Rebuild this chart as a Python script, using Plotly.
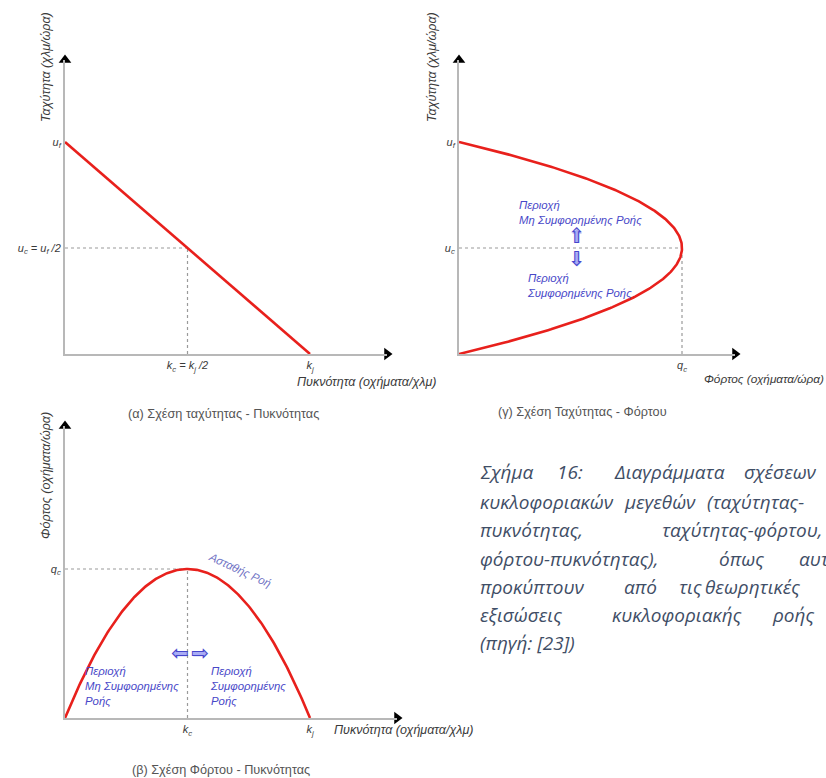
import numpy as np
import plotly.graph_objects as go

W, H = 826, 778

# Greenshields traffic-flow model (normalised units)
U_FREE = 1.0            # free-flow speed u_f
K_JAM = 1.0             # jam density k_j
K_CRIT = K_JAM / 2      # critical density k_c
U_CRIT = U_FREE / 2     # critical speed u_c
Q_CAP = U_FREE * K_JAM / 4  # capacity q_c

density = np.linspace(0, K_JAM, 241)
speed = U_FREE * (1 - density / K_JAM)
flow = density * speed

RED = "#e8201c"
AXIS = "#b8b8b8"
GUIDE = "#9a9a9a"
TXT = "#3a3a3a"
BLUE = "#4848c8"
FONT = "Liberation Sans, Arial, sans-serif"

# panel frames in pixels: origin, pixel of the unit value, arrow tips
PANELS = {
    "a": dict(x0=65, y0=354, xunit=(K_JAM, 310), yunit=(U_FREE, 142), xtip=392, ytip=55),
    "g": dict(x0=459, y0=354, xunit=(Q_CAP, 682), yunit=(U_FREE, 142), xtip=740, ytip=55),
    "b": dict(x0=65, y0=718, xunit=(K_JAM, 310), yunit=(Q_CAP, 569), xtip=402, ytip=421),
}


def frame(p):
    sx = (p["xunit"][1] - p["x0"]) / p["xunit"][0]
    sy = (p["y0"] - p["yunit"][1]) / p["yunit"][0]
    xe, ye = p["xtip"] - 5, p["ytip"] + 5
    return dict(
        xdom=[p["x0"] / W, xe / W],
        ydom=[1 - p["y0"] / H, 1 - ye / H],
        xmax=(xe - p["x0"]) / sx,
        ymax=(p["y0"] - ye) / sy,
    )


F = {k: frame(v) for k, v in PANELS.items()}
AX = {"a": ("x", "y"), "g": ("x2", "y2"), "b": ("x3", "y3")}

fig = go.Figure()

# red model curves
fig.add_trace(go.Scatter(x=density, y=speed, xaxis="x", yaxis="y", mode="lines",
                         line=dict(color=RED, width=2.6), cliponaxis=False, hoverinfo="skip"))
fig.add_trace(go.Scatter(x=flow, y=speed, xaxis="x2", yaxis="y2", mode="lines",
                         line=dict(color=RED, width=2.6), cliponaxis=False, hoverinfo="skip"))
fig.add_trace(go.Scatter(x=density, y=flow, xaxis="x3", yaxis="y3", mode="lines",
                         line=dict(color=RED, width=2.6), cliponaxis=False, hoverinfo="skip"))

# arrow heads at the ends of the axes
for key, (xa, ya) in AX.items():
    f = F[key]
    fig.add_trace(go.Scatter(x=[f["xmax"], 0], y=[0, f["ymax"]], xaxis=xa, yaxis=ya,
                             mode="markers", cliponaxis=False, hoverinfo="skip",
                             marker=dict(symbol=["triangle-right", "triangle-up"],
                                         size=11, color="black", line=dict(width=0))))

# dotted guides to the critical point
shapes = []
guides = {"a": (K_CRIT, U_CRIT), "g": (Q_CAP, U_CRIT), "b": (K_CRIT, Q_CAP)}
for key, (gx, gy) in guides.items():
    xa, ya = AX[key]
    for (x0, y0, x1, y1) in [(0, gy, gx, gy), (gx, 0, gx, gy)]:
        shapes.append(dict(type="line", xref=xa, yref=ya, x0=x0, y0=y0, x1=x1, y1=y1,
                           line=dict(color=GUIDE, width=1.2, dash="dot"), layer="below"))

tickfont = dict(family=FONT, size=11, color=TXT, style="italic")


def axis(key, which, tickvals, ticktext, anchor):
    f = F[key]
    return dict(
        domain=f["xdom"] if which == "x" else f["ydom"],
        range=[0, f["xmax"] if which == "x" else f["ymax"]],
        anchor=anchor, showgrid=False, zeroline=False,
        showline=True, linecolor=AXIS, linewidth=2,
        ticks="", tickvals=tickvals, ticktext=ticktext, tickfont=tickfont,
        fixedrange=True,
    )


layout_axes = dict(
    xaxis=axis("a", "x", [K_CRIT, K_JAM], ["k<sub>c</sub> = k<sub>j</sub> /2", "k<sub>j</sub>"], "y"),
    yaxis=axis("a", "y", [U_CRIT, U_FREE], ["u<sub>c</sub> = u<sub>f</sub> /2", "u<sub>f</sub>"], "x"),
    xaxis2=axis("g", "x", [Q_CAP], ["q<sub>c</sub>"], "y2"),
    yaxis2=axis("g", "y", [U_CRIT, U_FREE], ["u<sub>c</sub>", "u<sub>f</sub>"], "x2"),
    xaxis3=axis("b", "x", [K_CRIT, K_JAM], ["k<sub>c</sub>", "k<sub>j</sub>"], "y3"),
    yaxis3=axis("b", "y", [Q_CAP], ["q<sub>c</sub>"], "x3"),
)

annotations = []


def note(text, px, py, size=12.5, color=TXT, xanchor="left", yanchor="middle",
         angle=0, italic=True, family=FONT, align="left"):
    annotations.append(dict(
        text=text, x=px / W, y=1 - py / H, xref="paper", yref="paper",
        xanchor=xanchor, yanchor=yanchor, showarrow=False, textangle=angle, align=align,
        font=dict(family=family, size=size, color=color, style="italic" if italic else "normal"),
    ))


# axis titles
note("Ταχύτητα (χλμ/ώρα)", 46, 67, angle=-90, xanchor="center")
note("Ταχύτητα (χλμ/ώρα)", 432, 67, angle=-90, xanchor="center")
note("Φόρτος (οχήματα/ώρα)", 46, 476, angle=-90, xanchor="center")
note("Πυκνότητα (οχήματα/χλμ)", 295, 382)
note("Φόρτος (οχήματα/ώρα)", 702, 379, size=11.8)
note("Πυκνότητα (οχήματα/χλμ)", 332, 730)

# panel captions
CAPT = dict(size=12.7, color="#555555", xanchor="center", italic=False)
note("(α) Σχέση ταχύτητας - Πυκνότητας", 223, 414, **CAPT)
note("(γ) Σχέση Ταχύτητας - Φόρτου", 582, 412, **CAPT)
note("(β) Σχέση Φόρτου - Πυκνότητας", 221, 770, **CAPT)

# flow regimes
note("Περιοχή<br>Μη Συμφορημένης Ροής", 517, 212, size=11.4, color=BLUE)
note("Περιοχή<br>Συμφορημένης Ροής", 525, 285, size=11.4, color=BLUE)
note("Περιοχή<br>Μη Συμφορημένης<br>Ροής", 83, 686, size=11.4, color=BLUE)
note("Περιοχή<br>Συμφορημένης<br>Ροής", 208, 686, size=11.4, color=BLUE)
note("Ασταθής Ροή", 240, 570, size=11.4, color="#6f72c4", xanchor="center", angle=25)

# block arrows marking the regime change: light fill under a darker outline
FILL = dict(size=19, color="#a9acf4", italic=False, family="DejaVu Sans", xanchor="center")
EDGE = dict(size=21, color="#4646cc", italic=False, family="DejaVu Sans", xanchor="center")
for fill_glyph, edge_glyph, px, py in [("⬆", "⇧", 577, 236), ("⬇", "⇩", 577, 259),
                                       ("⬅", "⇦", 180, 653), ("➡", "⇨", 200, 653)]:
    note(fill_glyph, px, py, **FILL)
    note(edge_glyph, px, py, **EDGE)

# figure caption, justified word by word
CAP = dict(size=19, color="#3f4e66", family="Open Sans, sans-serif")
caption_lines = [
    (472, [("Σχήμα", 478), ("16:", 555), ("Διαγράμματα", 612), ("σχέσεων", 742)]),
    (502, [("κυκλοφοριακών", 478), ("μεγεθών", 622), ("(ταχύτητας-", 705)]),
    (530, [("πυκνότητας,", 478), ("ταχύτητας-φόρτου,", 660)]),
    (559, [("φόρτου-πυκνότητας),", 478), ("όπως", 717), ("αυτές", 797)]),
    (587, [("προκύπτουν", 478), ("από", 622), ("τις", 677), ("θεωρητικές", 703)]),
    (615, [("εξισώσεις", 478), ("κυκλοφοριακής", 610), ("ροής", 770)]),
    (643, [("(πηγή: [23])", 478)]),
]
for py, words in caption_lines:
    for word, px in words:
        note(word, px, py, **CAP)

fig.update_layout(
    width=W, height=H, margin=dict(l=0, r=0, t=0, b=0),
    paper_bgcolor="white", plot_bgcolor="white", showlegend=False,
    shapes=shapes, annotations=annotations, **layout_axes,
)

fig.write_html("out.html")
